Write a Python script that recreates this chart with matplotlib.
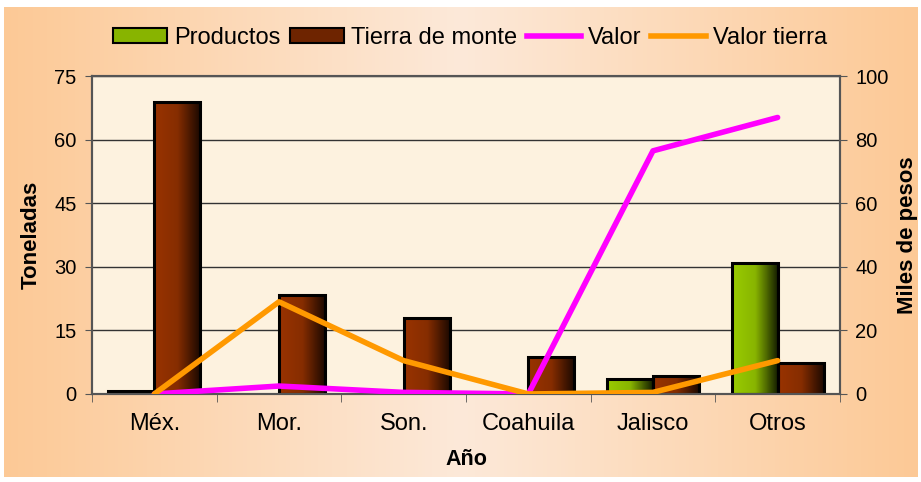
import numpy as np
import matplotlib
matplotlib.use("Agg")
import matplotlib.pyplot as plt
from matplotlib.colors import LinearSegmentedColormap
from matplotlib.lines import Line2D
from matplotlib.patches import Rectangle

plt.rcParams['font.family'] = ['Liberation Sans', 'DejaVu Sans']

categorias = ["Méx.", "Mor.", "Son.", "Coahuila", "Jalisco", "Otros"]
productos = [0.7, 0, 0, 0, 3.5, 31]
tierra_monte = [69, 23.3, 18, 8.7, 4.2, 7.3]
valor = [0, 2.5, 0.5, 0, 76.5, 87]
valor_tierra = [0, 29, 10.5, 0, 0.5, 10.5]

fig = plt.figure(figsize=(9.21, 4.82), dpi=100)
fig.patch.set_facecolor("white")

# peach gradient background
bg = fig.add_axes([0.004, 0.01, 0.992, 0.975])
bg_cmap = LinearSegmentedColormap.from_list("bg", ["#fcc996", "#fde9d9", "#fcc996"])
bg.imshow(np.linspace(0, 1, 256).reshape(1, -1), cmap=bg_cmap, aspect="auto",
          extent=[0, 1, 0, 1])
bg.set_axis_off()

ax = fig.add_axes([0.0999, 0.1826, 0.8121, 0.6594])
ax.set_facecolor("#fdf2df")
ax2 = ax.twinx()

x = np.arange(len(categorias))
w = 0.37
green_cmap = LinearSegmentedColormap.from_list("g", ["#99cc00", "#88b400", "#101800"])
brown_cmap = LinearSegmentedColormap.from_list("b", ["#993300", "#862d00", "#1a0800"])
grad = np.linspace(0, 1, 64).reshape(1, -1)


def gradient_bars(xs, heights, cmap, label):
    bars = ax.bar(xs, heights, w, edgecolor="black", linewidth=2.2, label=label,
                  facecolor="none", zorder=3)
    for b in bars:
        if b.get_height() <= 0:
            b.set_visible(False)
            continue
        x0, y0 = b.get_x(), b.get_y()
        im = ax.imshow(grad, cmap=cmap, aspect="auto", zorder=2.5,
                       extent=[x0, x0 + b.get_width(), y0, y0 + b.get_height()])
        im.set_clip_path(b)
    return bars


gradient_bars(x - w / 2, productos, green_cmap, "Productos")
gradient_bars(x + w / 2, tierra_monte, brown_cmap, "Tierra de monte")

ax2.plot(x, valor, color="#ff00ff", lw=4, solid_capstyle="round", zorder=5)
ax2.plot(x, valor_tierra, color="#ff9900", lw=4, solid_capstyle="round", zorder=5)

ax.set_xlim(-0.5, len(categorias) - 0.5)
ax.set_ylim(0, 75)
ax.set_yticks(np.arange(0, 76, 15))
ax2.set_ylim(0, 100)
ax2.set_yticks(np.arange(0, 101, 20))
ax.grid(axis="y", color="#333333", lw=1, zorder=0)
ax.set_axisbelow(True)

ax.set_xticks(x)
ax.set_xticklabels(categorias)
ax.set_xticks(np.arange(-0.5, len(categorias)), minor=True)
ax.tick_params(axis="x", which="major", length=0, pad=14, labelsize=17)
ax.tick_params(axis="x", which="minor", length=6, color="#555555")
ax.tick_params(axis="y", length=5, labelsize=14.5, color="#555555", pad=6)
ax2.tick_params(axis="y", length=5, labelsize=14.5, color="#555555", pad=6)

for a in (ax, ax2):
    for s in a.spines.values():
        s.set_color("#555555")
        s.set_linewidth(1.5)
ax.spines["top"].set_color("#999999")

ax.set_xlabel("Año", fontsize=15.5, fontweight="bold", labelpad=10)
ax.set_ylabel("Toneladas", fontsize=16, fontweight="bold", labelpad=9)
ax2.set_ylabel("Miles de pesos", fontsize=16, fontweight="bold", labelpad=6)

handles = [
    Rectangle((0, 0), 1, 1, facecolor="#88b400", edgecolor="black", lw=1.5),
    Rectangle((0, 0), 1, 1, facecolor="#6e2400", edgecolor="black", lw=1.5),
    Line2D([], [], color="#ff00ff", lw=4),
    Line2D([], [], color="#ff9900", lw=4),
]
fig.legend(handles, ["Productos", "Tierra de monte", "Valor", "Valor tierra"],
           loc="center", bbox_to_anchor=(0.51, 0.921), ncol=4, frameon=False,
           fontsize=17, handlelength=2.3, handleheight=0.6, handletextpad=0.3,
           columnspacing=0.4, borderpad=0.2)

fig.savefig("out.png", dpi=100, facecolor=fig.get_facecolor())
